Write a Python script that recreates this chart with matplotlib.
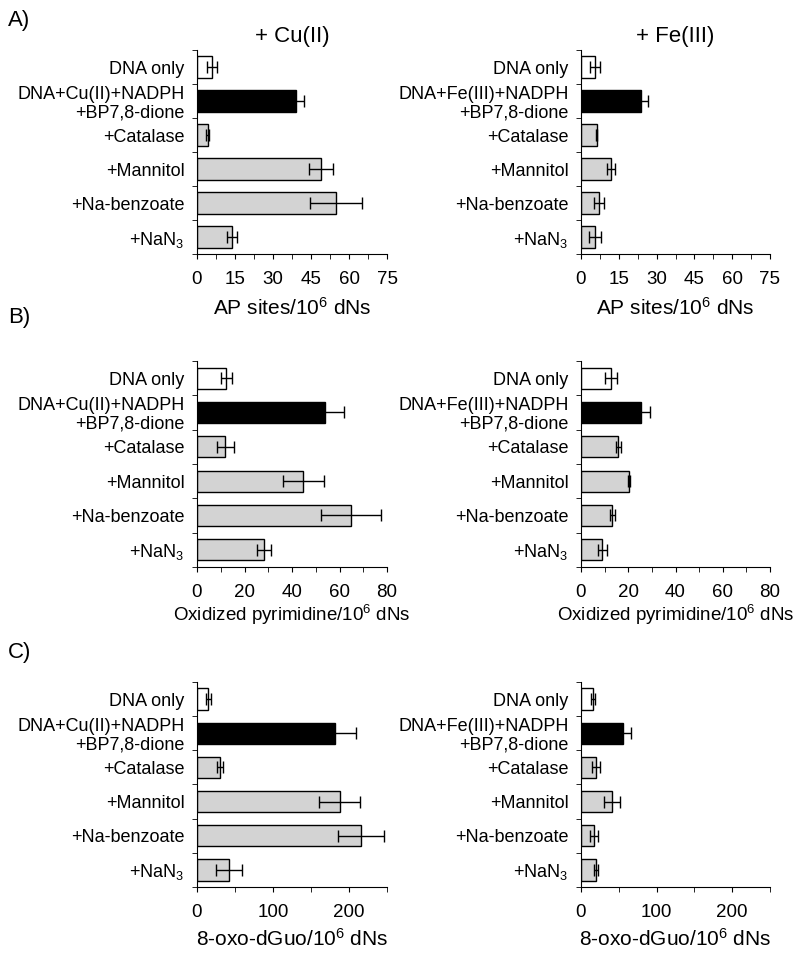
import numpy as np
import matplotlib
matplotlib.use("Agg")
import matplotlib.pyplot as plt
from matplotlib.ticker import MultipleLocator

plt.rcParams['font.family'] = ['Liberation Sans', 'DejaVu Sans']
plt.rcParams['mathtext.fontset'] = 'custom'
plt.rcParams['mathtext.rm'] = 'Liberation Sans'
plt.rcParams['mathtext.default'] = 'rm'

# --- data ---
labels_cu = ["DNA only", "DNA+Cu(II)+NADPH\n+BP7,8-dione", "+Catalase",
             "+Mannitol", "+Na-benzoate", "+NaN$_3$"]
labels_fe = ["DNA only", "DNA+Fe(III)+NADPH\n+BP7,8-dione", "+Catalase",
             "+Mannitol", "+Na-benzoate", "+NaN$_3$"]

ap_cu = [6.0, 39.2, 4.2, 49.0, 55.0, 13.8]
ap_cu_err = [2.0, 3.2, 0.5, 4.6, 10.2, 2.0]
ap_fe = [5.4, 24.0, 6.2, 11.9, 7.3, 5.4]
ap_fe_err = [2.0, 2.4, 0.3, 1.5, 2.0, 2.4]

ox_cu = [12.4, 54.0, 11.9, 44.8, 64.8, 28.2]
ox_cu_err = [2.4, 7.7, 3.6, 8.8, 12.7, 2.8]
ox_fe = [12.7, 25.5, 15.8, 20.4, 13.3, 9.0]
ox_fe_err = [2.5, 3.7, 1.0, 0.3, 1.0, 2.0]

oxo_cu = [15.0, 182.0, 30.0, 188.0, 216.0, 42.0]
oxo_cu_err = [3.5, 27.0, 4.0, 27.0, 30.0, 17.0]
oxo_fe = [16.0, 56.0, 19.7, 41.0, 17.5, 19.7]
oxo_fe_err = [3.0, 9.6, 5.7, 10.0, 5.5, 2.5]

bar_colors = ["white", "black", "#d3d3d3", "#d3d3d3", "#d3d3d3", "#d3d3d3"]

W, H = 800, 957
fig = plt.figure(figsize=(W / 100, H / 100), dpi=100)


def px_axes(left, top, right, bottom):
    return fig.add_axes([left / W, 1 - bottom / H, (right - left) / W, (bottom - top) / H])


def panel(ax, vals, errs, labels, xmax, major, minor, xlabel,
          xlabel_size=15, labelpad=5):
    pos = np.arange(len(vals))
    ax.barh(pos, vals, height=0.62, color=bar_colors, edgecolor="black", linewidth=1)
    ax.errorbar(vals, pos, xerr=errs, fmt="none", ecolor="black",
                elinewidth=1, capsize=4, capthick=1)
    ax.set_xlim(0, xmax)
    ax.set_ylim(len(vals) - 0.5, -0.5)
    ax.spines[["top", "right"]].set_visible(False)
    ax.set_yticks(pos)
    ax.set_yticklabels(labels, fontsize=13, linespacing=1.1)
    ax.set_yticks(np.arange(len(vals) + 1) - 0.5, minor=True)
    ax.tick_params(axis="y", which="major", length=0, pad=9)
    ax.tick_params(axis="y", which="minor", length=3.5, direction="out")
    ax.xaxis.set_major_locator(MultipleLocator(major))
    ax.xaxis.set_minor_locator(MultipleLocator(minor))
    ax.tick_params(axis="x", which="both", length=3.5, direction="out",
                   labelsize=13.5, pad=9)
    ax.set_xlabel(xlabel, fontsize=xlabel_size, labelpad=labelpad)


rows = [(50, 254), (361, 567), (682, 887)]
lefts = [(197, 387), (581, 770)]

axA1 = px_axes(lefts[0][0], rows[0][0], lefts[0][1], rows[0][1])
axA2 = px_axes(lefts[1][0], rows[0][0], lefts[1][1], rows[0][1])
panel(axA1, ap_cu, ap_cu_err, labels_cu, 75, 15, 7.5, "AP sites/10$^6$ dNs", labelpad=6)
panel(axA2, ap_fe, ap_fe_err, labels_fe, 75, 15, 7.5, "AP sites/10$^6$ dNs", labelpad=6)

axB1 = px_axes(lefts[0][0], rows[1][0], lefts[0][1], rows[1][1])
axB2 = px_axes(lefts[1][0], rows[1][0], lefts[1][1], rows[1][1])
panel(axB1, ox_cu, ox_cu_err, labels_cu, 80, 20, 10,
      "Oxidized pyrimidine/10$^6$ dNs", xlabel_size=13.5, labelpad=1)
panel(axB2, ox_fe, ox_fe_err, labels_fe, 80, 20, 10,
      "Oxidized pyrimidine/10$^6$ dNs", xlabel_size=13.5, labelpad=1)

axC1 = px_axes(lefts[0][0], rows[2][0], lefts[0][1], rows[2][1])
axC2 = px_axes(lefts[1][0], rows[2][0], lefts[1][1], rows[2][1])
panel(axC1, oxo_cu, oxo_cu_err, labels_cu, 250, 100, 50, "8-oxo-dGuo/10$^6$ dNs")
panel(axC2, oxo_fe, oxo_fe_err, labels_fe, 250, 100, 50, "8-oxo-dGuo/10$^6$ dNs")

axA1.set_title("+ Cu(II)", fontsize=16, pad=6)
axA2.set_title("+ Fe(III)", fontsize=16, pad=6)

fig.text(8 / W, 1 - 10 / H, "A)", fontsize=16, va="top", ha="left")
fig.text(8 / W, 1 - 307 / H, "B)", fontsize=16, va="top", ha="left")
fig.text(8 / W, 1 - 642 / H, "C)", fontsize=16, va="top", ha="left")

fig.savefig("out.png", dpi=100)
